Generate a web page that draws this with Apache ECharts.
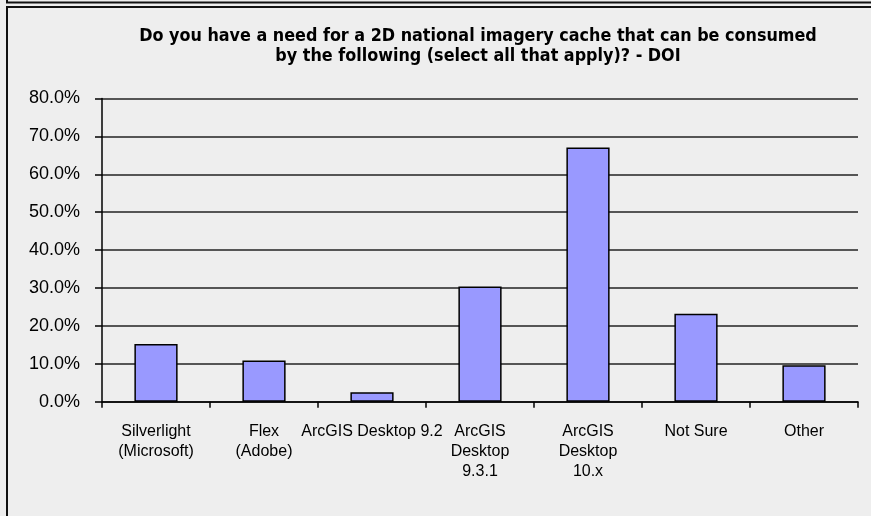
<!DOCTYPE html>
<html>
<head>
<meta charset="utf-8">
<script src="https://cdn.jsdelivr.net/npm/echarts@6/dist/echarts.min.js"></script>
<style>
html,body{margin:0;padding:0;background:#eeeeee;}
#c{width:871px;height:516px;}
</style>
</head>
<body>
<div id="c"></div>
<script>
const categories = ['Silverlight\n(Microsoft)', 'Flex\n(Adobe)', 'ArcGIS Desktop 9.2', 'ArcGIS\nDesktop\n9.3.1', 'ArcGIS\nDesktop\n10.x', 'Not Sure', 'Other'];
const values = [15.2, 10.9, 2.5, 30.4, 67.1, 23.2, 9.6];
const yTicks = [0, 10, 20, 30, 40, 50, 60, 70, 80];
const titleText = 'Do you have a need for a 2D national imagery cache that can be consumed\nby the following (select all that apply)? - DOI';

const chart = echarts.init(document.getElementById('c'), null, {renderer: 'canvas'});
chart.setOption({
  backgroundColor: '#eeeeee',
  animation: false,
  graphic: [
    {type: 'rect', shape: {x: 7, y: -10, width: 880, height: 12.5}, style: {fill: 'none', stroke: '#111', lineWidth: 2}},
    {type: 'rect', shape: {x: 7, y: 7, width: 880, height: 530}, style: {fill: 'none', stroke: '#111', lineWidth: 2}}
  ],
  title: {
    text: titleText,
    left: 473,
    textAlign: 'center',
    top: 21,
    textStyle: {fontFamily: '"DejaVu Sans Condensed", "Liberation Sans", sans-serif', fontSize: 17.8, fontWeight: 'bold', color: '#000', lineHeight: 20}
  },
  grid: {left: 102, right: 13, top: 98.5, bottom: 516 - 401.7},
  xAxis: {
    type: 'category',
    data: categories,
    axisLine: {lineStyle: {color: '#000', width: 1.5}},
    axisTick: {show: true, length: 6, alignWithLabel: false, lineStyle: {color: '#000', width: 1.5}},
    axisLabel: {interval: 0, color: '#000', fontFamily: 'Liberation Sans', fontSize: 16, lineHeight: 20, margin: 20}
  },
  yAxis: {
    type: 'value',
    min: yTicks[0],
    max: yTicks[yTicks.length - 1],
    interval: 10,
    axisLine: {show: true, lineStyle: {color: '#000', width: 1.5}},
    axisTick: {show: true, length: 7, lineStyle: {color: '#000', width: 1.5}},
    splitLine: {lineStyle: {color: '#222', width: 1.5}},
    axisLabel: {color: '#000', fontFamily: 'Liberation Sans', fontSize: 18, margin: 22, formatter: v => v.toFixed(1) + '%'}
  },
  series: [{
    type: 'bar',
    data: values,
    barWidth: '40%',
    itemStyle: {color: '#9999ff', borderColor: '#000', borderWidth: 1.5}
  }]
});
</script>
</body>
</html>
